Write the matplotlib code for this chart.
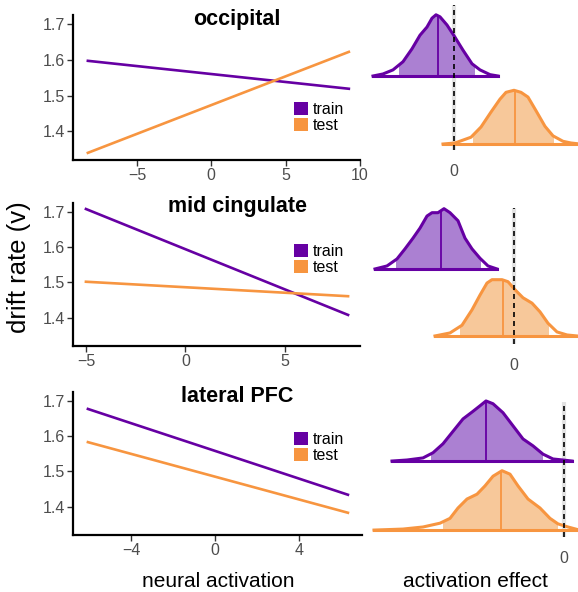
import matplotlib
matplotlib.use('Agg')
import matplotlib.pyplot as plt
from matplotlib.patches import Patch, Rectangle
import numpy as np

plt.rcParams['font.family'] = ['Liberation Sans', 'DejaVu Sans']

# ---- data ----
regions = ['occipital', 'mid cingulate', 'lateral PFC']
groups = ['train', 'test']

# neural activation range (x ends of fitted lines) and drift rate at the ends
act_range = [[-8.3, 9.25], [-5.0, 8.17], [-6.05, 6.33]]
train_drift = [[1.597, 1.519], [1.708, 1.408], [1.677, 1.434]]
test_drift = [[1.340, 1.622], [1.502, 1.461], [1.583, 1.383]]
act_ticks = [[-5, 0, 5, 10], [-5, 0, 5], [-4, 0, 4]]
drift_ticks = [1.4, 1.5, 1.6, 1.7]

# activation effect posterior densities (x, density), mean, 95% interval
occ_train_x = [-0.81, -0.71, -0.61, -0.51, -0.42, -0.34, -0.27, -0.22, -0.18,
               -0.14, -0.07, 0.01, 0.09, 0.18, 0.26, 0.36, 0.44]
occ_train_d = [0, 0.03, 0.09, 0.21, 0.40, 0.60, 0.72, 0.85, 0.90,
               0.87, 0.75, 0.57, 0.38, 0.18, 0.09, 0.02, 0]
occ_train_sum = [-0.16, -0.55, 0.20]
occ_test_x = [-0.11, 0.01, 0.17, 0.27, 0.37, 0.46, 0.52, 0.60, 0.67, 0.74,
              0.82, 0.91, 0.99, 1.09, 1.17, 1.26]
occ_test_d = [0, 0.015, 0.10, 0.25, 0.47, 0.66, 0.76, 0.79, 0.76, 0.69,
              0.49, 0.26, 0.12, 0.04, 0.015, 0]
occ_test_sum = [0.61, 0.19, 0.99]

mid_train_x = [-1.39, -1.27, -1.17, -1.09, -1.01, -0.94, -0.87, -0.82, -0.76,
               -0.70, -0.64, -0.56, -0.49, -0.42, -0.34, -0.26, -0.17]
mid_train_d = [0, 0.045, 0.15, 0.30, 0.46, 0.61, 0.79, 0.84, 0.84,
               0.90, 0.84, 0.72, 0.46, 0.30, 0.16, 0.045, 0]
mid_train_sum = [-0.73, -1.18, -0.34]
mid_test_x = [-0.79, -0.64, -0.52, -0.42, -0.34, -0.27, -0.22, -0.12, -0.06,
              0.01, 0.09, 0.18, 0.26, 0.34, 0.43, 0.53, 0.63]
mid_test_d = [0, 0.045, 0.16, 0.39, 0.61, 0.79, 0.84, 0.84, 0.81,
              0.69, 0.57, 0.49, 0.36, 0.19, 0.06, 0.015, 0]
mid_test_sum = [-0.11, -0.54, 0.34]

pfc_train_x = [-1.72, -1.57, -1.41, -1.31, -1.21, -1.11, -1.01, -0.91, -0.84,
               -0.78, -0.71, -0.61, -0.51, -0.41, -0.31, -0.21, -0.11, -0.01, 0.08]
pfc_train_d = [0, 0.015, 0.045, 0.12, 0.25, 0.43, 0.61, 0.72, 0.80,
               0.87, 0.83, 0.70, 0.51, 0.32, 0.22, 0.10, 0.03, 0.015, 0]
pfc_train_sum = [-0.78, -1.33, -0.22]
pfc_test_x = [-1.90, -1.61, -1.41, -1.24, -1.14, -1.06, -0.97, -0.87, -0.79,
              -0.71, -0.62, -0.54, -0.46, -0.36, -0.24, -0.14, -0.06, 0.04, 0.13]
pfc_test_d = [0, 0.015, 0.045, 0.10, 0.17, 0.32, 0.45, 0.52, 0.64,
              0.78, 0.86, 0.81, 0.64, 0.45, 0.32, 0.17, 0.09, 0.045, 0.01]
pfc_test_sum = [-0.63, -1.21, -0.07]

ridge_train = [(occ_train_x, occ_train_d, occ_train_sum),
               (mid_train_x, mid_train_d, mid_train_sum),
               (pfc_train_x, pfc_train_d, pfc_train_sum)]
ridge_test = [(occ_test_x, occ_test_d, occ_test_sum),
              (mid_test_x, mid_test_d, mid_test_sum),
              (pfc_test_x, pfc_test_d, pfc_test_sum)]

# ---- style ----
PURPLE = '#6600A3'
ORANGE = '#F79540'
PURPLE_FILL = '#AB80D2'
ORANGE_FILL = '#F7C89A'
TICK_C = '#4D4D4D'

W, H = 578, 592
fig = plt.figure(figsize=(W / 100, H / 100), dpi=100)


def px_axes(x0, x1, y0, y1):
    # pixel box (top-left origin) -> figure axes
    return fig.add_axes([x0 / W, 1 - y1 / H, (x1 - x0) / W, (y1 - y0) / H])


left_boxes = [(73, 360, 15, 160), (73, 360, 203, 346), (73, 362, 392, 535)]
left_xlims = [(-9.3, 10.0), (-5.65, 8.77), (-6.76, 7.0)]
right_boxes = [(370, 578, 5, 150), (370, 578, 208, 344), (370, 578, 402, 537)]
right_xlims = [(-0.84, 1.24), (-1.44, 0.64), (-1.94, 0.14)]
right_ylims = [(0.912, 3.044), (0.88, 2.91), (0.9, 2.855)]
title_pos = [(237, 25), (237, 212), (237, 402)]
legend_pos = [(294, 102), (294, 244), (294, 432)]


def ridge(ax, x, d, summ, base, line_c, fill_c):
    x = np.asarray(x)
    y = base + np.asarray(d)
    mean, lo, hi = summ
    poly = ax.fill_between(x, base, y, color=fill_c, lw=0, zorder=2)
    clip = Rectangle((lo, base - 0.5), hi - lo, 3, transform=ax.transData)
    poly.set_clip_path(clip)
    ax.plot(x, y, color=line_c, lw=2.2, zorder=3, solid_joinstyle='round',
            clip_on=False)
    ax.plot([x[0], x[-1]], [base, base], color=line_c, lw=2.2, zorder=3,
            clip_on=False)
    ax.plot([mean, mean], [base, base + np.interp(mean, x, d)],
            color=line_c, lw=1.3, zorder=3, clip_on=False)


for i in range(3):
    # left: drift rate vs neural activation
    ax = px_axes(*left_boxes[i])
    ax.plot(act_range[i], train_drift[i], color=PURPLE, lw=1.9)
    ax.plot(act_range[i], test_drift[i], color=ORANGE, lw=1.9)
    ax.set_xlim(*left_xlims[i])
    ax.set_ylim(1.32, 1.725)
    ax.set_xticks(act_ticks[i])
    ax.set_yticks(drift_ticks)
    for s in ['top', 'right']:
        ax.spines[s].set_visible(False)
    for s in ['left', 'bottom']:
        ax.spines[s].set_linewidth(1.6)
    ax.tick_params(length=4, width=1, color='#333333', labelcolor=TICK_C,
                   labelsize=11.5, pad=2)
    fig.text(title_pos[i][0] / W, 1 - title_pos[i][1] / H, regions[i],
             ha='center', va='baseline', fontsize=15.5, fontweight='bold')
    handles = [Patch(facecolor=PURPLE, edgecolor='none', label=groups[0]),
               Patch(facecolor=ORANGE, edgecolor='none', label=groups[1])]
    fig.legend(handles=handles, loc='upper left', frameon=False,
               bbox_to_anchor=(legend_pos[i][0] / W, 1 - legend_pos[i][1] / H),
               fontsize=11.5, handlelength=0.85, handleheight=0.85,
               handletextpad=0.3, labelspacing=0.05, borderpad=0,
               borderaxespad=0)

    # right: activation effect ridgelines
    ax2 = px_axes(*right_boxes[i])
    ax2.axvline(0, color='#E2E2E2', lw=3, zorder=0)
    xs, ds, summ = ridge_test[i]
    ridge(ax2, xs, ds, summ, 1, ORANGE, ORANGE_FILL)
    xs, ds, summ = ridge_train[i]
    ridge(ax2, xs, ds, summ, 2, PURPLE, PURPLE_FILL)
    ax2.axvline(0, color='black', lw=1.2, dashes=(3, 2.4), zorder=4)
    ax2.set_xlim(*right_xlims[i])
    ax2.set_ylim(*right_ylims[i])
    for s in ax2.spines.values():
        s.set_visible(False)
    ax2.set_yticks([])
    ax2.set_xticks([0])
    ax2.tick_params(axis='x', length=0, pad=10, labelcolor=TICK_C,
                    labelsize=11.5)

fig.text(19 / W, 1 - 267 / H, 'drift rate (v)', rotation=90,
         ha='center', va='center', fontsize=18.5)
fig.text(218 / W, 1 - 587 / H, 'neural activation', ha='center',
         va='baseline', fontsize=15)
fig.text(475 / W, 1 - 587 / H, 'activation effect', ha='center',
         va='baseline', fontsize=15)

fig.savefig('out.png', dpi=100)
